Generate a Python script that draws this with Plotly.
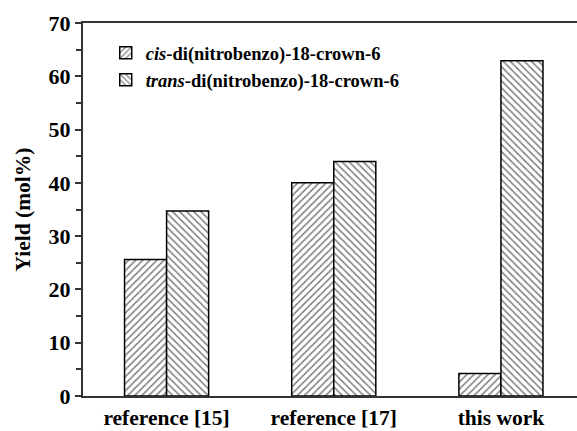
import plotly.graph_objects as go

categories = ["reference [15]", "reference [17]", "this work"]
cis_values = [25.6, 40.0, 4.2]
trans_values = [34.7, 44.0, 62.9]
series_names = ["<b><i>cis</i>-di(nitrobenzo)-18-crown-6</b>", "<b><i>trans</i>-di(nitrobenzo)-18-crown-6</b>"]

FONT = "Liberation Serif, Times New Roman, serif"

fig = go.Figure()
for name, vals, shape in [(series_names[0], cis_values, "/"), (series_names[1], trans_values, "\\")]:
    fig.add_trace(go.Bar(
        x=list(range(len(categories))), y=vals, name=name,
        marker=dict(color="white", line=dict(color="black", width=1.5),
                    pattern=dict(shape=shape, fgcolor="black", bgcolor="white",
                                 size=5, solidity=0.3)),
    ))

fig.update_layout(
    width=577, height=431,
    margin=dict(l=83, r=0, t=23, b=35),
    plot_bgcolor="white", paper_bgcolor="white",
    barmode="group", bargap=0.497, bargroupgap=0,
    font=dict(family=FONT, size=19, color="black"),
    showlegend=True,
    legend=dict(x=0.046, y=0.97, xanchor="left", yanchor="top",
                bgcolor="rgba(0,0,0,0)", font=dict(family=FONT, size=18.5, color="black"),
                tracegroupgap=0, itemwidth=30),
    xaxis=dict(range=[-0.5, 2.455], tickmode="array", tickvals=list(range(len(categories))),
               ticktext=["<b>%s</b>" % c for c in categories], automargin=False,
               showline=True, linecolor="#333", linewidth=2, mirror=True,
               ticks="", showgrid=False, zeroline=False, ticklabelstandoff=1,
               tickfont=dict(family=FONT, size=21.5, color="black")),
    yaxis=dict(range=[0, 70], dtick=10, tickmode="linear", tick0=0, automargin=False,
               showline=True, linecolor="#333", linewidth=2,
               ticks="outside", ticklen=6, tickwidth=1.5, tickcolor="#333",
               minor=dict(dtick=5, ticks="outside", ticklen=5, tickwidth=1.5, tickcolor="#333"),
               showgrid=False, zeroline=False,
               tickfont=dict(family=FONT, size=22, color="black"),
               tickprefix="<b>", ticksuffix="</b>",
               title=dict(text="<b>Yield (mol%)</b>", font=dict(family=FONT, size=21.5, color="black"),
                          standoff=12)),
)

fig.write_html("out.html")
